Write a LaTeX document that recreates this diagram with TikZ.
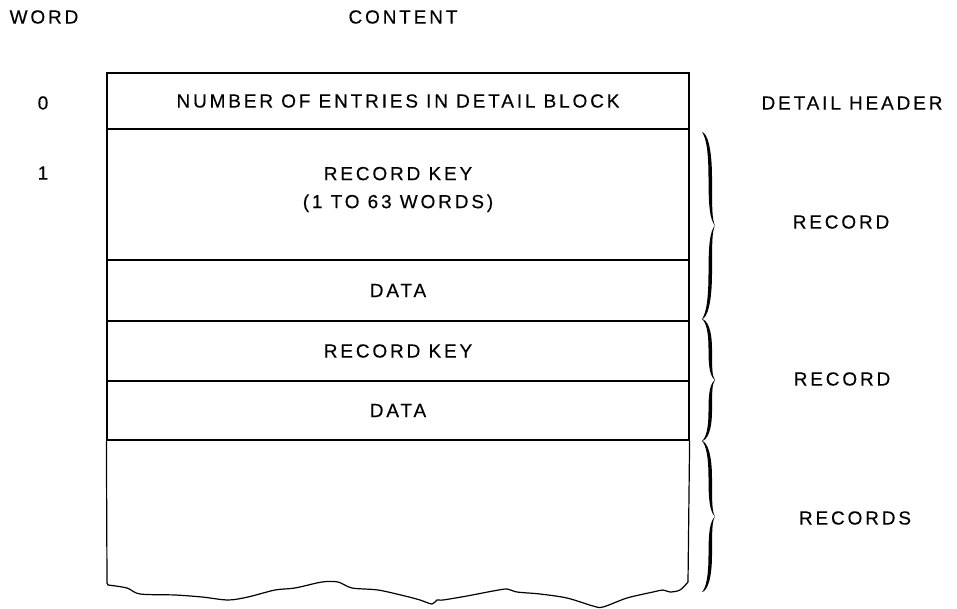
\documentclass[tikz,border=0pt]{standalone}
\usepackage{fontspec}
\setmainfont{Liberation Sans}[LetterSpace=15, FakeBold=0.3]

\tikzset{
  row/.style={draw, line width=1.2pt, minimum width=582pt, inner sep=0pt,
    font=\fontsize{19}{28}\selectfont},
  lbl/.style={font=\fontsize{19}{28}\selectfont, inner sep=0pt},
  % inked curly brace, #1 = its length, tip to the right
  pics/wiggle/.style={code={
    \fill (0,0) .. controls (5,1) and (10,0.08*#1) .. (10,0.25*#1)
      .. controls (10,0.4*#1) and (10,0.47*#1) .. (13,0.5*#1)
      .. controls (10,0.53*#1) and (10,0.6*#1) .. (10,0.75*#1)
      .. controls (10,0.92*#1) and (5,#1-1) .. (0,#1)
      .. controls (4,0.97*#1) and (6.5,0.9*#1) .. (6.5,0.75*#1)
      .. controls (6.5,0.6*#1) and (8,0.53*#1) .. (13,0.5*#1)
      .. controls (8,0.47*#1) and (6.5,0.4*#1) .. (6.5,0.25*#1)
      .. controls (6.5,0.1*#1) and (4,0.03*#1) .. (0,0) -- cycle;
  }},
}

\begin{document}
\begin{tikzpicture}[x=1pt,y=-1pt]
\useasboundingbox (0,0) rectangle (957,609);
% column heads
\node[lbl] (word) at (44,17) {WORD};
\node[lbl] (content) at (403,17) {CONTENT};
% the block, one row per entry
\node[row, minimum height=56pt] (hdr) at (398,101) {NUMBER OF ENTRIES IN DETAIL BLOCK};
\node[row, minimum height=131pt] (key1) at (398,194.5) {};
\node[lbl, align=center] (key1txt) at ([yshift=5pt]key1.center) {RECORD KEY\\(1 TO 63 WORDS)};
\node[row, minimum height=61pt] (data1) at (398,290.5) {DATA};
\node[row, minimum height=60pt] (key2) at (398,351) {RECORD KEY};
\node[row, minimum height=59pt] (data2) at (398,410.5) {DATA};
% open end, torn off
\draw[line width=1.2pt] (data2.south west) -- (107,583)
  -- plot[smooth, tension=0.5] coordinates {(108,585) (127,588) (140,594) (175,595)
    (202,597) (228,600) (248,597) (275,590) (295,588) (322,582) (338,582) (352,588)
    (378,590) (405,596) (420,600) (432,604) (437,600) (443,600) (467,596) (493,591)
    (507,589) (517,592) (540,594) (567,598) (593,606) (603,607) (627,598) (653,592)
    (663,590) (670,592) (680,590) (688,582)}
  -- (data2.south east);
% word numbers
\node[lbl] (w0) at (43,103) {0};
\node[lbl] (w1) at (43,173) {1};
% what the rows are
\node[lbl] (dethdr) at (852,103) {DETAIL HEADER};
\node[lbl] (rec1) at (841,222) {RECORD};
\node[lbl] (rec2) at (842,379) {RECORD};
\node[lbl] (recs) at (855,518) {RECORDS};
% braces
\coordinate (b0) at (702,132);
\coordinate (b1) at (702,319);
\coordinate (b2) at (702,441);
\coordinate (b3) at (702,592);
\pic at (b0) {wiggle=187};
\pic at (b1) {wiggle=122};
\pic at (b2) {wiggle=151};
\end{tikzpicture}
\end{document}
